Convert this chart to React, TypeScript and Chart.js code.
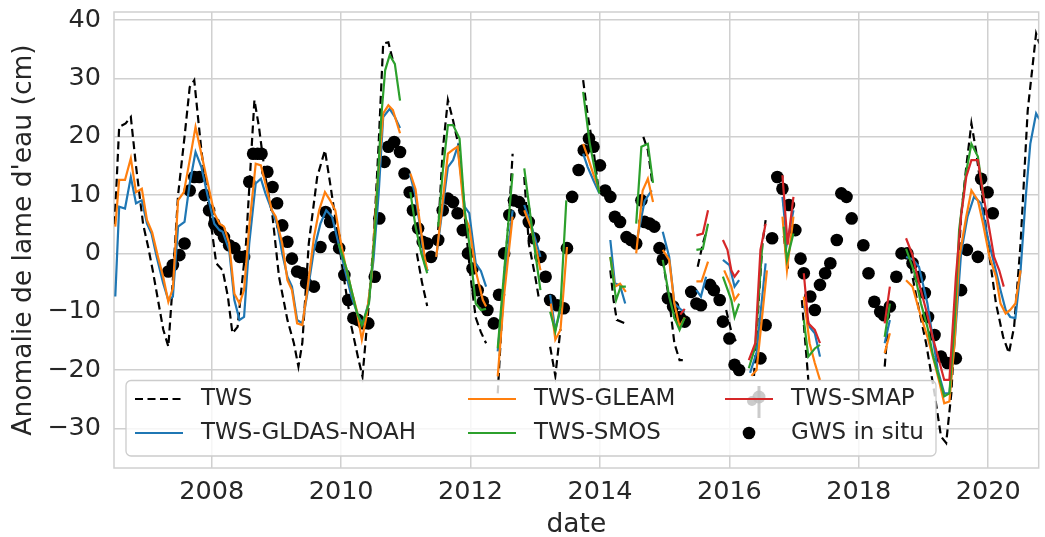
import React, { useEffect, useRef } from 'react';
import { Chart, registerables } from 'chart.js';

Chart.register(...registerables);

type P = [number, number] | null;

const X_MIN = 2006.49;
const X_MAX = 2020.78;
const Y_MIN = -36.8;
const Y_MAX = 41.4;
const xTickYears = [2008, 2010, 2012, 2014, 2016, 2018, 2020];
const yTickValues = [-30, -20, -10, 0, 10, 20, 30, 40];

const tws: P[] = [
  [2006.50, 5], [2006.57, 21.7], [2006.67, 22.3], [2006.75, 23.4], [2006.83, 15], [2006.94, 5], [2007.02, 1], [2007.09, -3],
  [2007.17, -8], [2007.25, -13], [2007.33, -16], [2007.38, -8], [2007.48, 10], [2007.58, 20], [2007.66, 28.5], [2007.73, 29.7],
  [2007.84, 17.7], [2007.96, 7.4], [2008.07, -1.7], [2008.17, -2.9], [2008.25, -7.4], [2008.32, -13.7], [2008.40, -12.6],
  [2008.53, 1.7], [2008.66, 26.3], [2008.73, 21.7], [2008.83, 13.1], [2008.94, 6.3], [2009.04, -4], [2009.17, -11.4],
  [2009.27, -15.4], [2009.34, -19.4], [2009.40, -15.4], [2009.50, 1.7], [2009.63, 13.1], [2009.75, 17.7], [2009.83, 12],
  [2009.93, 4.6], [2010.04, -4], [2010.16, -12.6], [2010.27, -18.3], [2010.33, -21.1], [2010.42, -9.7], [2010.50, 1.7],
  [2010.58, 18.8], [2010.65, 36], [2010.73, 36.2], [2010.80, 33.1], null,
  [2011.17, 0], [2011.25, -5], [2011.33, -9], null,
  [2011.50, 4], [2011.57, 17.7], [2011.65, 26.3], [2011.73, 22.8], [2011.83, 17.7], [2011.91, 6.3], [2012.00, -4],
  [2012.08, -11], [2012.16, -13.5], [2012.24, -15.4], null,
  [2012.42, -24], [2012.52, -4], [2012.60, 7.4], [2012.65, 17.1], null,
  [2012.83, 13.1], [2012.90, 1.7], [2013.00, -4], [2013.06, -8], null,
  [2013.23, -16], [2013.31, -21], [2013.39, -13], null,
  [2013.74, 29.7], [2013.80, 24.5], [2013.90, 17.7], [2013.98, 10.8], null,
  [2014.16, -2.9], [2014.21, -8], [2014.26, -11.4], [2014.39, -12], null,
  [2014.67, 20], [2014.74, 17.7], [2014.81, 12], null,
  [2014.97, -1.1], [2015.07, -8], [2015.15, -15.4], [2015.23, -18.3], [2015.28, -18.3], null,
  [2015.51, -2.3], [2015.59, 1.7], [2015.65, 4], null,
  [2015.95, -9.7], [2016.05, -14.3], [2016.13, -15.4], null,
  [2016.38, -21], [2016.51, 1.7], [2016.56, 5.7], null,
  [2016.84, 3], [2016.91, -3], null,
  [2017.12, -8], [2017.22, -21.7], null,
  [2018.40, -19.4], [2018.45, -12.6], null,
  [2018.76, 0], [2018.91, -8.6], [2019.04, -15.4], [2019.17, -24], [2019.27, -31.4], [2019.35, -32.5], [2019.43, -24],
  [2019.50, -9.7], [2019.58, 6.3], [2019.66, 14.8], [2019.74, 22.3], [2019.81, 17.7], [2019.92, 8.6], [2020.02, -0.6],
  [2020.12, -8.6], [2020.23, -14.3], [2020.32, -17.1], [2020.40, -12.6], [2020.50, 1.7], [2020.61, 24.5], [2020.74, 37.7],
  [2020.79, 36],
];

const gldas: P[] = [
  [2006.51, -7.4], [2006.57, 8], [2006.66, 7.7], [2006.75, 13.1], [2006.83, 8.6], [2006.92, 9.1], [2007.0, 5.1], [2007.07, 3.4],
  [2007.15, -0.6], [2007.25, -5.1], [2007.33, -8], [2007.40, -7.4], [2007.48, 4.6], [2007.58, 5.4], [2007.66, 12], [2007.75, 17.4],
  [2007.84, 14.8], [2007.94, 9.7], [2008.04, 5.1], [2008.12, 4], [2008.17, 3.7], [2008.27, 0.6], [2008.35, -8], [2008.43, -11.4],
  [2008.50, -10.9], [2008.58, 1.7], [2008.68, 12], [2008.76, 12.8], [2008.83, 10.3], [2008.93, 7.4], [2009.01, 5], [2009.09, 0],
  [2009.17, -4], [2009.24, -5.7], [2009.32, -11.4], [2009.40, -12], [2009.47, -7.4], [2009.58, 0.6], [2009.68, 5.1], [2009.77, 7.4],
  [2009.86, 6.3], [2009.96, 1.7], [2010.06, -2.9], [2010.16, -7.4], [2010.27, -10.9], [2010.34, -12], [2010.42, -8.6], [2010.50, -1.1],
  [2010.58, 10.3], [2010.65, 23.4], [2010.75, 24.8], [2010.83, 23.4], [2010.91, 21.5], null,
  [2011.06, 13.7], [2011.14, 10.3], [2011.22, 4.6], [2011.29, -1.7], [2011.34, -3], null,
  [2011.47, -0.6], [2011.57, 8], [2011.65, 14.8], [2011.73, 16], [2011.80, 18.3], [2011.91, 8], [2011.98, 6.9], [2012.08, -1.7],
  [2012.16, -3], [2012.24, -5.7], null,
  [2012.42, -16.8], [2012.52, -5], [2012.65, 7.4], null,
  [2012.83, 8.3], [2012.93, 5.1], [2013.08, -0.6], null,
  [2013.23, -7.1], [2013.31, -13.1], [2013.39, -9.7], null,
  [2013.74, 17.1], [2013.81, 14.8], [2013.90, 12.5], [2013.99, 10.3], null,
  [2014.16, 2.3], [2014.23, -5.1], [2014.31, -5.5], [2014.39, -8.6], null,
  [2014.58, 2.8], [2014.69, 9], [2014.80, 10.8], null,
  [2014.97, 3.7], [2015.07, -0.6], [2015.15, -8.6], [2015.26, -9.7], [2015.31, -10], null,
  [2015.49, -6.3], [2015.56, -7.4], [2015.64, -4], null,
  [2015.90, -1.1], [2016.0, -2], [2016.08, -5.7], [2016.15, -4.6], null,
  [2016.32, -20.5], [2016.42, -17], [2016.56, -1.7], null,
  [2016.82, 9.7], [2016.89, 1.7], [2016.99, 7.4], null,
  [2017.15, -9], [2017.24, -12.6], [2017.32, -13.7], [2017.40, -17.7], null,
  [2018.40, -15.4], [2018.48, -11.4], null,
  [2018.73, -0.6], [2018.83, -1], [2018.93, -2.3], [2019.06, -8.6], [2019.14, -14.3], [2019.22, -20], [2019.32, -24], [2019.40, -24],
  [2019.48, -15.4], [2019.58, 0], [2019.68, 6.3], [2019.78, 9.7], [2019.89, 8.6], [2019.99, 2.8], [2020.09, -1.7], [2020.19, -6.3],
  [2020.27, -9.7], [2020.34, -10.9], [2020.42, -11.1], [2020.50, -2.9], [2020.58, 9.7], [2020.65, 18.8], [2020.74, 24], [2020.79, 23],
];

const gleam: P[] = [
  [2006.51, 4.6], [2006.57, 12.6], [2006.66, 12.6], [2006.75, 16.3], [2006.83, 10.5], [2006.92, 11.1], [2007.0, 5.7], [2007.08, 3.6],
  [2007.17, -0.6], [2007.25, -4], [2007.33, -8.3], [2007.40, -6], [2007.48, 9.1], [2007.57, 10.5], [2007.66, 16], [2007.75, 21.7],
  [2007.84, 17.1], [2007.94, 12], [2008.04, 6.9], [2008.12, 5.1], [2008.19, 4.6], [2008.27, 1.7], [2008.35, -6.9], [2008.43, -8.6],
  [2008.50, -6.3], [2008.58, 4.6], [2008.68, 15.4], [2008.76, 15.1], [2008.83, 12], [2008.93, 7.4], [2008.99, 6.3], [2009.09, 1.7],
  [2009.17, -4.6], [2009.24, -6.3], [2009.32, -12], [2009.40, -12.3], [2009.47, -6.9], [2009.58, 2.8], [2009.66, 7.4], [2009.75, 10.5],
  [2009.83, 9.1], [2009.91, 7.4], [2009.99, 2.2], [2010.06, -1.7], [2010.16, -6.3], [2010.24, -9.7], [2010.32, -14.8], [2010.39, -10.9],
  [2010.47, -4], [2010.55, 10.3], [2010.65, 24], [2010.73, 25.4], [2010.80, 24.6], [2010.91, 20.6], null,
  [2011.07, 13.7], [2011.15, 11], [2011.22, 5], [2011.29, -0.5], [2011.33, -2.9], null,
  [2011.47, -0.6], [2011.57, 9], [2011.65, 17.1], [2011.73, 17.8], [2011.80, 18.3], [2011.91, 6.3], [2011.98, 4.6], [2012.08, -3],
  [2012.19, -8], [2012.24, -9.1], null,
  [2012.42, -21.1], [2012.52, -7], [2012.65, 6.3], null,
  [2012.83, 7.4], [2012.93, 4.6], [2013.03, 0], [2013.08, -2.9], null,
  [2013.24, -8.6], [2013.31, -14.8], [2013.39, -13.1], [2013.49, 1.1], null,
  [2013.74, 18.8], [2013.81, 16.6], [2013.90, 13.5], [2013.99, 10.8], null,
  [2014.16, -0.6], [2014.23, -5.7], [2014.31, -5.2], [2014.40, -6.6], null,
  [2014.56, 0], [2014.66, 10.8], [2014.74, 12.8], [2014.82, 8.8], null,
  [2014.97, 0.6], [2015.07, -1.1], [2015.15, -8.6], [2015.23, -12.6], [2015.31, -11], null,
  [2015.49, -4.8], [2015.57, -4.8], [2015.67, -1.4], null,
  [2015.92, -2.9], [2016.03, -5.7], [2016.08, -8], [2016.15, -6.9], null,
  [2016.34, -21], [2016.42, -20], [2016.58, -2.9], null,
  [2016.82, 6.3], [2016.89, -2.9], [2016.99, 6.3], null,
  [2017.15, -7.4], [2017.24, -15.4], [2017.32, -18.8], [2017.40, -21.7], null,
  [2018.40, -17.1], [2018.48, -13.7], null,
  [2018.73, -4.6], [2018.83, -5.7], [2018.93, -9.7], [2019.06, -14.3], [2019.17, -18.8], [2019.25, -22.3], [2019.32, -25.7],
  [2019.40, -25.4], [2019.48, -15.4], [2019.55, -0.9], [2019.66, 6.3], [2019.74, 10.8], [2019.84, 9.1], [2019.92, 5.1],
  [2020.02, -0.6], [2020.12, -4], [2020.19, -8.6], [2020.27, -10.3], [2020.34, -9.7], [2020.42, -8.6], [2020.50, -2.9],
];

const smos: P[] = [
  [2009.96, 1.7], [2010.08, -2.5], [2010.16, -6.3], [2010.24, -10], [2010.32, -12.3], [2010.43, -8.6], [2010.52, 3.4],
  [2010.62, 23.4], [2010.68, 31.4], [2010.75, 34], [2010.83, 32.5], [2010.91, 26.2], null,
  [2011.07, 10.5], [2011.15, 4.6], [2011.24, 0], [2011.33, -3.4], null,
  [2011.50, 4.6], [2011.57, 14], [2011.65, 22], [2011.73, 22], [2011.83, 19.7], [2011.91, 7.4], [2011.98, 1.7], [2012.08, -8.6],
  [2012.16, -9.7], [2012.24, -9.5], null,
  [2012.42, -16.3], [2012.52, -3], [2012.65, 13.7], null,
  [2012.83, 14.6], [2012.90, 8.6], [2012.98, 1.7], [2013.08, -6.3], null,
  [2013.23, -10], [2013.31, -13.4], [2013.39, -9], [2013.48, 9.1], null,
  [2013.74, 27.7], [2013.84, 19], [2013.99, 10.3], null,
  [2014.16, -0.6], [2014.25, -8], [2014.32, -5.7], [2014.40, -5.7], null,
  [2014.56, 5.1], [2014.64, 18.3], [2014.74, 18.8], [2014.82, 12.1], null,
  [2014.97, -1.1], [2015.07, -7.4], [2015.15, -11], [2015.23, -13.1], [2015.31, -11], null,
  [2015.49, 0.6], [2015.59, 0.8], [2015.67, 5.1], null,
  [2015.90, -4], [2016.03, -8], [2016.08, -10.9], [2016.15, -8.6], null,
  [2016.30, -19.7], [2016.40, -16], [2016.51, 1.7], null,
  [2016.84, 4.6], [2016.89, -1.1], [2016.99, 3.4], null,
  [2017.15, -11.4], [2017.22, -17.7], [2017.32, -16.3], [2017.40, -15.7], null,
  [2018.40, -14.3], [2018.48, -8.6], null,
  [2018.73, 0.8], [2018.86, -3.3], [2018.96, -8.6], [2019.06, -12.6], [2019.15, -17.7], [2019.25, -21.7], [2019.32, -24.5],
  [2019.40, -24], [2019.48, -12], [2019.55, 4], [2019.66, 14], [2019.74, 18.8], [2019.84, 16.6], [2019.93, 9.7],
];

const smap: P[] = [
  [2015.24, -10.5], [2015.31, -9.5], null,
  [2015.49, 3.1], [2015.59, 3.4], [2015.67, 7.4], null,
  [2015.90, 2.3], [2015.97, 0.6], [2016.03, -2.9], [2016.08, -4], [2016.15, -2.9], null,
  [2016.30, -18.3], [2016.40, -15.4], [2016.48, 0.6], [2016.56, 5.1], null,
  [2016.82, 13.4], [2016.90, 1.5], [2016.99, 9.7], null,
  [2017.15, -3.4], [2017.22, -12], [2017.32, -13.1], [2017.40, -15.4], null,
  [2018.40, -12], [2018.48, -5.7], null,
  [2018.73, 2.6], [2018.83, -0.3], [2018.93, -5.1], [2019.04, -9.7], [2019.14, -14.3], [2019.25, -18.8], [2019.32, -21.7],
  [2019.40, -21.7], [2019.50, -4], [2019.58, 6.3], [2019.66, 13.1], [2019.74, 16], [2019.84, 16], [2019.92, 10.3],
  [2020.02, 4], [2020.09, -0.6], [2020.17, -2.9], [2020.24, -5.7],
];

const gwsInSitu: [number, number][] = [
  [2007.33, -3.1], [2007.40, -2], [2007.50, -0.3], [2007.58, 1.7], [2007.66, 10.8], [2007.73, 13.1], [2007.81, 13.1], [2007.89, 10],
  [2007.96, 7.4], [2008.04, 5.1], [2008.12, 4], [2008.19, 2.8], [2008.27, 1.4], [2008.35, 0.9], [2008.43, -0.6], [2008.50, -0.6],
  [2008.58, 12.3], [2008.64, 17.1], [2008.71, 17.1], [2008.77, 17.1], [2008.86, 14], [2008.94, 11.4], [2009.01, 8.6], [2009.09, 4.8],
  [2009.17, 2], [2009.24, -0.9], [2009.32, -3.1], [2009.40, -3.4], [2009.46, -5.1], [2009.58, -5.7], [2009.68, 1.1], [2009.76, 7.1],
  [2009.83, 5.4], [2009.90, 2.8], [2009.97, 0.9], [2010.05, -3.7], [2010.11, -8], [2010.19, -11.1], [2010.26, -11.4], [2010.34, -12],
  [2010.42, -12], [2010.52, -4], [2010.59, 6], [2010.67, 15.7], [2010.73, 18.3], [2010.82, 19.1], [2010.91, 17.4], [2010.98, 13.7],
  [2011.06, 10.5], [2011.11, 7.4], [2011.19, 4.3], [2011.26, 2], [2011.33, 1.7], [2011.39, -0.6], [2011.50, 2.3], [2011.57, 7.4],
  [2011.65, 9.4], [2011.73, 8.8], [2011.80, 6.9], [2011.88, 4], [2011.96, 0], [2012.03, -2.6], [2012.11, -6.3], [2012.19, -8.3],
  [2012.26, -9.7], [2012.36, -12], [2012.44, -7.1], [2012.52, 0], [2012.60, 6.6], [2012.67, 9.1], [2012.75, 8.8], [2012.83, 7.4],
  [2012.90, 5.4], [2012.98, 2.6], [2013.08, -0.6], [2013.16, -4], [2013.23, -8], [2013.34, -8.9], [2013.44, -9.4], [2013.49, 0.9],
  [2013.57, 9.7], [2013.67, 14.3], [2013.75, 17.7], [2013.83, 19.7], [2013.90, 18.3], [2014.00, 15.1], [2014.08, 10.8], [2014.16, 9.7],
  [2014.23, 6.3], [2014.31, 5.4], [2014.41, 2.8], [2014.48, 2.3], [2014.56, 1.7], [2014.64, 9.1], [2014.69, 5.4], [2014.77, 5.1],
  [2014.84, 4.6], [2014.92, 0.9], [2014.97, -1.1], [2015.05, -7.7], [2015.13, -9.1], [2015.23, -10.9], [2015.31, -11.7], [2015.41, -6.6],
  [2015.49, -8.6], [2015.56, -8.9], [2015.70, -5.4], [2015.76, -6.3], [2015.85, -8], [2015.90, -11.7], [2016.00, -14.6], [2016.08, -19.1],
  [2016.15, -20], [2016.48, -18], [2016.56, -12.3], [2016.66, 2.6], [2016.74, 13.1], [2016.82, 11.1], [2016.92, 8.3], [2017.02, 4],
  [2017.10, -0.9], [2017.15, -3.4], [2017.25, -7.4], [2017.32, -9.7], [2017.40, -5.4], [2017.48, -3.4], [2017.56, -1.7], [2017.66, 2.3],
  [2017.73, 10.3], [2017.81, 9.7], [2017.89, 6], [2018.07, 1.4], [2018.15, -3.4], [2018.24, -8.3], [2018.33, -10], [2018.39, -10.6],
  [2018.48, -9.1], [2018.58, -4], [2018.66, 0], [2018.75, 0], [2018.83, -1.7], [2018.94, -4], [2019.02, -6.8], [2019.07, -10.9],
  [2019.17, -14], [2019.27, -17.7], [2019.37, -18.8], [2019.50, -18], [2019.58, -6.3], [2019.67, 0.6], [2019.84, -0.6], [2019.89, 12.8],
  [2019.99, 10.5], [2020.07, 6.9],
];

const FONT = 'DejaVu Sans';
const TEXT = '#262626';
const GRID = '#d0d0d0';

const seriesLabels = ['TWS', 'TWS-GLDAS-NOAH', 'TWS-GLEAM', 'TWS-SMOS', 'TWS-SMAP', 'GWS in situ'];
const seriesColors = ['#000000', '#1f77b4', '#ff7f0e', '#2ca02c', '#d62728', '#000000'];

function toXY(arr: P[]) {
  return arr.map((p, i) => {
    if (p) return { x: p[0], y: p[1] };
    const prev = arr[i - 1] as [number, number];
    const next = arr[i + 1] as [number, number];
    return { x: (prev[0] + next[0]) / 2, y: null as any };
  });
}

const fmtY = (v: number) => (v < 0 ? '\u2212' + Math.abs(v) : String(v));

const framePlugin = {
  id: 'frame',
  beforeDatasetsDraw(chart: any) {
    const { ctx, chartArea: a } = chart;
    ctx.save();
    ctx.strokeStyle = GRID;
    ctx.lineWidth = 1.5;
    ctx.strokeRect(a.left, a.top, a.right - a.left, a.bottom - a.top);
    ctx.restore();
  },
};

const legendPlugin = {
  id: 'innerLegend',
  afterDraw(chart: any) {
    const { ctx, chartArea: a } = chart;
    const x0 = a.left + 12;
    const y1 = a.bottom - 12;
    const w = 810;
    const h = 75.5;
    const y0 = y1 - h;
    ctx.save();
    ctx.beginPath();
    const r = 5;
    ctx.moveTo(x0 + r, y0);
    ctx.arcTo(x0 + w, y0, x0 + w, y0 + h, r);
    ctx.arcTo(x0 + w, y0 + h, x0, y0 + h, r);
    ctx.arcTo(x0, y0 + h, x0, y0, r);
    ctx.arcTo(x0, y0, x0 + w, y0, r);
    ctx.closePath();
    ctx.fillStyle = 'rgba(255,255,255,0.8)';
    ctx.fill();
    ctx.strokeStyle = '#cccccc';
    ctx.lineWidth = 1.3;
    ctx.stroke();

    const colX = [x0 + 9, x0 + 342, x0 + 599];
    const rowY = [y0 + 18.5, y0 + 52.5];
    const handleLen = 48;

    // faint grey marker behind the TWS-SMAP handle
    ctx.fillStyle = 'rgba(190,190,190,0.8)';
    ctx.strokeStyle = 'rgba(190,190,190,0.8)';
    ctx.lineWidth = 3;
    ctx.beginPath();
    ctx.moveTo(colX[2] + 34, rowY[0] - 13);
    ctx.lineTo(colX[2] + 34, rowY[0] + 19);
    ctx.stroke();
    ctx.beginPath();
    ctx.arc(colX[2] + 34, rowY[0] - 2, 6.5, 0, Math.PI * 2);
    ctx.fill();
    ctx.beginPath();
    ctx.arc(colX[2] + 27, rowY[0] + 2, 5, 0, Math.PI * 2);
    ctx.fill();

    ctx.font = `23px "${FONT}"`;
    ctx.textBaseline = 'middle';
    ctx.textAlign = 'left';
    seriesLabels.forEach((label, i) => {
      const col = Math.floor(i / 2);
      const row = i % 2;
      const hx = colX[col];
      const hy = rowY[row];
      if (i === 5) {
        ctx.beginPath();
        ctx.fillStyle = seriesColors[i];
        ctx.arc(hx + handleLen / 2, hy, 6.3, 0, Math.PI * 2);
        ctx.fill();
      } else {
        ctx.beginPath();
        ctx.strokeStyle = seriesColors[i];
        ctx.lineWidth = 2.2;
        ctx.setLineDash(i === 0 ? [8, 4.5] : []);
        ctx.moveTo(hx, hy);
        ctx.lineTo(hx + handleLen, hy);
        ctx.stroke();
        ctx.setLineDash([]);
      }
      ctx.fillStyle = TEXT;
      ctx.fillText(label, hx + 66, hy);
    });
    ctx.restore();
  },
};

export default function App() {
  const ref = useRef<HTMLCanvasElement | null>(null);

  useEffect(() => {
    if (!ref.current) return;
    const lineSets = [tws, gldas, gleam, smos, smap].map((arr, i) => ({
      type: 'line' as const,
      label: seriesLabels[i],
      data: toXY(arr),
      borderColor: seriesColors[i],
      backgroundColor: seriesColors[i],
      borderWidth: 2.2,
      borderDash: i === 0 ? [8, 4.5] : [],
      pointRadius: 0,
      tension: 0,
      spanGaps: false,
      fill: false,
      order: 5 - i,
    }));
    const chart = new Chart(ref.current, {
      type: 'line',
      data: {
        datasets: [
          ...lineSets,
          {
            type: 'scatter' as const,
            label: seriesLabels[5],
            data: gwsInSitu.map(([x, y]) => ({ x, y })),
            backgroundColor: '#000000',
            borderWidth: 0,
            pointRadius: 6.3,
            order: 10,
          } as any,
        ],
      },
      options: {
        responsive: false,
        animation: false,
        devicePixelRatio: 1,
        layout: { padding: { top: 12, left: 0, right: 0, bottom: 0 } },
        plugins: { legend: { display: false }, tooltip: { enabled: false } },
        scales: {
          x: {
            type: 'linear',
            position: 'bottom',
            min: X_MIN,
            max: X_MAX,
            afterBuildTicks: (s: any) => {
              s.ticks = xTickYears.map((v) => ({ value: v }));
            },
            afterFit: (s: any) => {
              s.height = 69;
              s.paddingLeft = 0;
              s.paddingRight = 0;
            },
            ticks: {
              autoSkip: false,
              maxRotation: 0,
              padding: 9,
              color: TEXT,
              font: { family: FONT, size: 25.5 },
              callback: (v: any) => String(v),
            },
            grid: { color: GRID, lineWidth: 1.5, drawTicks: false },
            border: { display: false },
            title: {
              display: true,
              text: 'date',
              color: TEXT,
              font: { family: FONT, size: 26.5, lineHeight: 0.9 },
              padding: { top: 0, bottom: 0 },
            },
          },
          y: {
            type: 'linear',
            min: Y_MIN,
            max: Y_MAX,
            afterBuildTicks: (s: any) => {
              s.ticks = yTickValues.map((v) => ({ value: v }));
            },
            afterFit: (s: any) => {
              s.width = 114;
              s.paddingTop = 0;
              s.paddingBottom = 0;
            },
            ticks: {
              padding: 13,
              color: TEXT,
              font: { family: FONT, size: 25.5 },
              callback: (v: any) => fmtY(Number(v)),
            },
            grid: { color: GRID, lineWidth: 1.5, drawTicks: false },
            border: { display: false },
            title: {
              display: true,
              text: "Anomalie de lame d'eau (cm)",
              color: TEXT,
              font: { family: FONT, size: 26.5 },
              padding: { top: 8.5, bottom: 0 },
            },
          },
        },
      } as any,
      plugins: [framePlugin, legendPlugin],
    });
    return () => chart.destroy();
  }, []);

  return (
    <div style={{ position: 'absolute', left: 0, top: 0, width: 1045, height: 537, background: '#ffffff' }}>
      <canvas ref={ref} width={1045} height={537} style={{ display: 'block' }} />
    </div>
  );
}
